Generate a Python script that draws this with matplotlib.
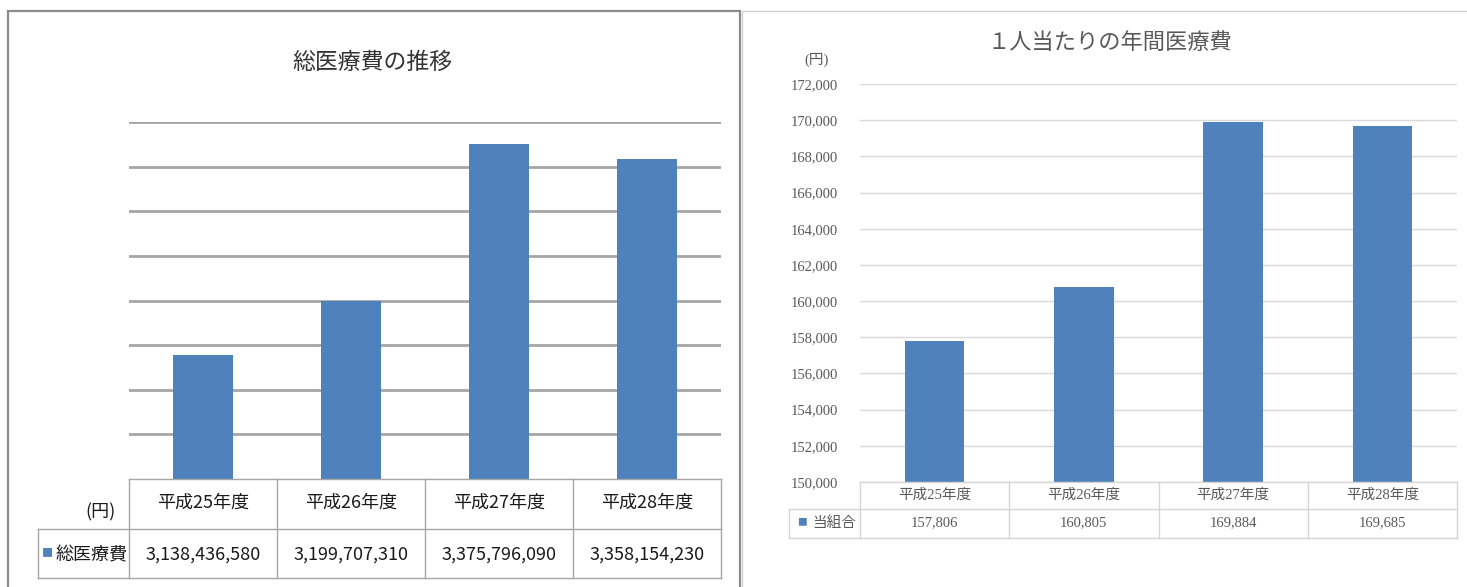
import numpy as np
import matplotlib
matplotlib.use("Agg")
import matplotlib.pyplot as plt
from matplotlib import transforms
from matplotlib.patches import Rectangle
from matplotlib.lines import Line2D

plt.rcParams['font.family'] = ['Noto Sans CJK JP', 'DejaVu Sans']

# fiscal years and costs (yen)
years = ['平成25年度', '平成26年度', '平成27年度', '平成28年度']
total_cost = [3138436580, 3199707310, 3375796090, 3358154230]
per_person = [157806, 160805, 169884, 169685]

W, H = 1467, 587
BAR = '#4f81bd'
GOTHIC = ['Noto Sans CJK JP', 'DejaVu Sans']
SERIF = ['Liberation Serif', 'Noto Sans CJK JP']


def fx(px):
    return px / W


def fy(py):
    return 1 - py / H


fig = plt.figure(figsize=(W / 100, H / 100), dpi=100)


def hline(x0, x1, y, color, lw, trans=None):
    fig.add_artist(Line2D([x0, x1], [y, y], color=color, lw=lw,
                          transform=trans or fig.transFigure))


def vline(x, y0, y1, color, lw, trans):
    fig.add_artist(Line2D([x, x], [y0, y1], color=color, lw=lw, transform=trans))


# panel frames
fig.add_artist(Rectangle((fx(8), fy(600)), fx(740) - fx(8), fy(11) - fy(600),
                         transform=fig.transFigure, fill=False,
                         edgecolor='#8c8c8c', lw=1.6))
fig.add_artist(Rectangle((fx(742), fy(600)), fx(1490) - fx(742), fy(11) - fy(600),
                         transform=fig.transFigure, fill=False,
                         edgecolor='#d0d0d0', lw=1.0))

# ---- left: total medical cost ----
axl = fig.add_axes([fx(129), fy(479), fx(721) - fx(129), fy(122) - fy(479)])
axl.bar(range(len(years)), total_cost, width=0.4, color=BAR, zorder=3)
axl.set_xlim(-0.5, len(years) - 0.5)
axl.set_ylim(3.0e9, 3.4e9)
axl.set_yticks(np.arange(3.05e9, 3.41e9, 0.05e9))
axl.yaxis.grid(True, color='#a6a6a6', lw=2)
axl.set_axisbelow(True)
axl.tick_params(length=0, labelleft=False, labelbottom=False)
for s in axl.spines.values():
    s.set_visible(False)

fig.text(fx(372), fy(62), '総医療費の推移', ha='center', va='center',
         fontsize=16.5, color='#333333', family=GOTHIC)

tl = transforms.blended_transform_factory(axl.transData, fig.transFigure)
lc = '#a6a6a6'
right_l = axl.get_position().x1
hline(-0.5, len(years) - 0.5, fy(479), lc, 1.0, tl)
hline(fx(38), right_l, fy(529), lc, 1.0)
hline(fx(38), right_l, fy(578), lc, 1.0)
for b in np.arange(-0.5, len(years), 1.0):
    vline(b, fy(479), fy(578), lc, 1.0, tl)
vline(fx(38), fy(529), fy(578), lc, 1.0, fig.transFigure)

for i, (yr, v) in enumerate(zip(years, total_cost)):
    fig.text(i, fy(503), yr, transform=tl, ha='center', va='center',
             fontsize=13, color='#1a1a1a', family=GOTHIC)
    fig.text(i, fy(555), f'{v:,}', transform=tl, ha='center', va='center',
             fontsize=13, color='#1a1a1a', family=GOTHIC)
fig.text(fx(100), fy(512), '(円)', ha='center', va='center',
         fontsize=13, color='#1a1a1a', family=GOTHIC)
fig.text(fx(47), fy(553), '■', ha='center', va='center', fontsize=8, color=BAR)
fig.text(fx(127), fy(555), '総医療費', ha='right', va='center',
         fontsize=13, color='#1a1a1a', family=GOTHIC)

# ---- right: annual cost per person ----
axr = fig.add_axes([fx(860), fy(482), fx(1457) - fx(860), fy(84) - fy(482)])
axr.bar(range(len(years)), per_person, width=0.4, color=BAR, zorder=3)
axr.set_xlim(-0.5, len(years) - 0.5)
axr.set_ylim(150000, 172000)
yt = np.arange(150000, 172001, 2000)
axr.set_yticks(yt)
axr.set_yticklabels([f'{t:,}' for t in yt], family=SERIF, fontsize=10.5,
                    color='#595959')
axr.yaxis.grid(True, color='#d9d9d9', lw=1)
axr.set_axisbelow(True)
axr.tick_params(length=0, pad=16, labelbottom=False)
for s in axr.spines.values():
    s.set_visible(False)

fig.text(fx(1110), fy(44), '１人当たりの年間医療費', ha='center', va='center',
         fontsize=16, color='#595959', family=SERIF)
fig.text(fx(817), fy(60), '(円)', ha='center', va='center',
         fontsize=10.5, color='#595959', family=SERIF)

tr = transforms.blended_transform_factory(axr.transData, fig.transFigure)
rc = '#d6d6d6'
right_r = axr.get_position().x1
hline(-0.5, len(years) - 0.5, fy(482), rc, 1.0, tr)
hline(fx(789), right_r, fy(509), rc, 1.0)
hline(fx(789), right_r, fy(538), rc, 1.0)
for b in np.arange(-0.5, len(years), 1.0):
    vline(b, fy(482), fy(538), rc, 1.0, tr)
vline(fx(789), fy(509), fy(538), rc, 1.0, fig.transFigure)

for i, (yr, v) in enumerate(zip(years, per_person)):
    fig.text(i, fy(495), yr, transform=tr, ha='center', va='center',
             fontsize=10.5, color='#595959', family=SERIF)
    fig.text(i, fy(523), f'{v:,}', transform=tr, ha='center', va='center',
             fontsize=10.5, color='#595959', family=SERIF)
fig.text(fx(802), fy(522), '■', ha='center', va='center', fontsize=7, color=BAR)
fig.text(fx(834), fy(523), '当組合', ha='center', va='center',
         fontsize=10.5, color='#595959', family=SERIF)

fig.savefig('out.png', dpi=100)
